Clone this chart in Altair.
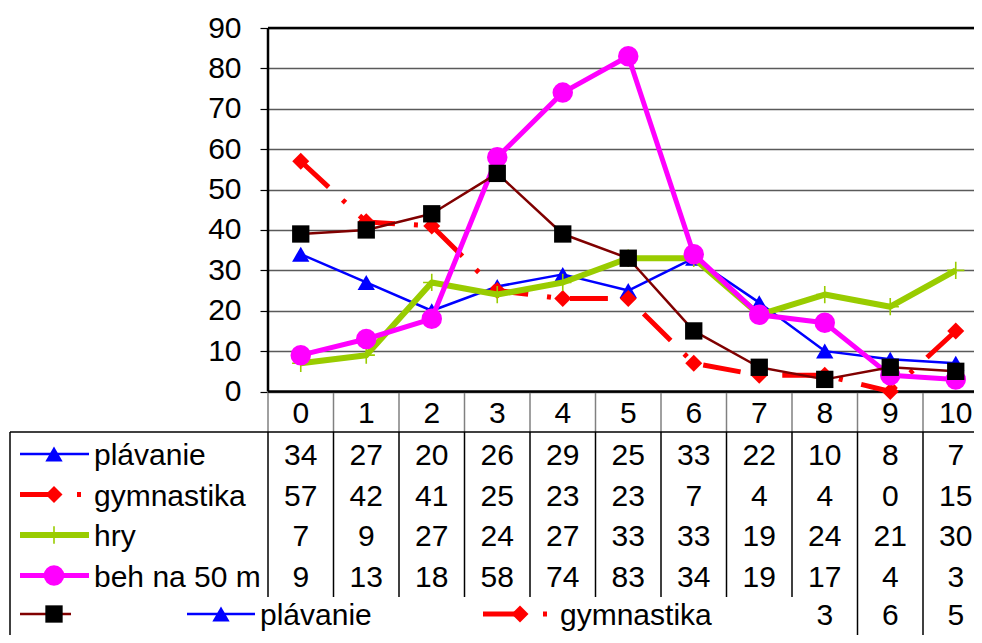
import altair as alt
import pandas as pd

# ---------------- data ----------------
categories = list(range(11))
plavanie   = [34, 27, 20, 26, 29, 25, 33, 22, 10, 8, 7]
gymnastika = [57, 42, 41, 25, 23, 23, 7, 4, 4, 0, 15]
hry        = [7, 9, 27, 24, 27, 33, 33, 19, 24, 21, 30]
beh        = [9, 13, 18, 58, 74, 83, 34, 19, 17, 4, 3]
bez_nazvu  = [39, 40, 44, 54, 39, 33, 15, 6, 3, 6, 5]
series_names = ["plávanie", "gymnastika", "hry", "beh na 50 m", ""]
y_ticks = [0, 10, 20, 30, 40, 50, 60, 70, 80, 90]
last_row_visible = [8, 9, 10]   # categories whose 5th-row value is not hidden by the legend

# ---------------- layout ----------------
FONT = "Liberation Sans"
FS = 30
PAD_L, PAD_T = 260, 20
W, H = 706, 607
PX_CAT = 65.5
PX_UNIT = 4.039
X0_PAGE = 8 + PAD_L
Y0_PAGE = 8 + PAD_T + 90 * PX_UNIT
X_MIN = -0.5
X_MAX = X_MIN + W / PX_CAT
Y_MAX = 90
Y_MIN = Y_MAX - H / PX_UNIT


def xd(px):
    return X_MIN + (px - X0_PAGE) / PX_CAT


def yd(py):
    return (Y0_PAGE - py) / PX_UNIT


xs = alt.Scale(domain=[X_MIN, X_MAX], nice=False, zero=False)
ys = alt.Scale(domain=[Y_MIN, Y_MAX], nice=False, zero=False)
yaxis = alt.Axis(values=y_ticks, title=None, grid=True, gridColor="#5a5a5a", gridWidth=1.5,
                 domain=False, ticks=True, tickColor="#000000", tickWidth=1.2, tickSize=8,
                 labelFont=FONT, labelFontSize=FS, labelColor="#000000", labelPadding=19,
                 labelBaseline="middle")


def X(f="x"):
    return alt.X(f + ":Q", scale=xs, axis=None)


def Y(f="y"):
    return alt.Y(f + ":Q", scale=ys, axis=yaxis)


styles = [
    dict(color="#0000FF", width=2.5, shape="triangle-up", size=300, fill=True, pcolor="#0000FF"),
    dict(color="#FF0000", width=5, shape="diamond", size=289, fill=True, pcolor="#FF0000",
         dash=[38, 19, 4, 19]),
    dict(color="#99CC00", width=6, shape="M-1,0L1,0M0,-1L0,1", size=300, fill=False, pcolor="#99CC00"),
    dict(color="#FF00FF", width=5, shape="circle", size=420, fill=True, pcolor="#FF00FF"),
    dict(color="#800000", width=2.5, shape="square", size=300, fill=True, pcolor="#000000"),
]
series_values = [plavanie, gymnastika, hry, beh, bez_nazvu]


def rules(rows, color, width):
    df = pd.DataFrame(rows, columns=["x", "x2", "y", "y2"])
    return alt.Chart(df).mark_rule(color=color, strokeWidth=width, strokeCap="butt").encode(
        x=X(), x2="x2:Q", y=Y(), y2="y2:Q")


def points(xv, yv, st):
    df = pd.DataFrame({"x": xv, "y": yv})
    kw = dict(shape=st["shape"], size=st["size"], opacity=1, color=st["pcolor"], filled=st["fill"])
    if not st["fill"]:
        kw["strokeWidth"] = 1.6
    else:
        kw["strokeWidth"] = 0
    return alt.Chart(df).mark_point(**kw).encode(x=X(), y=Y())


def texts(xv, yv, tv, align="center"):
    df = pd.DataFrame({"x": xv, "y": yv, "t": tv})
    return alt.Chart(df).mark_text(font=FONT, fontSize=FS, color="#000000", align=align,
                                   baseline="middle", dy=2).encode(x=X(), y=Y(), text="t:N")


layers = []

# table / category grid lines
y_head_line = yd(432)
y_cut = yd(597)
bounds = [c - 0.5 for c in categories]
layers.append(rules([(b, b, 0, y_head_line) for b in bounds], "#808080", 1.5))
layers.append(rules([(b, b, y_head_line, y_cut) for b in bounds if b < 8]
                    + [(b, b, y_head_line, Y_MIN) for b in bounds if b > 8], "#000000", 1.5))
layers.append(rules([(xd(10), X_MAX, y_head_line, y_head_line),
                     (xd(10), xd(10), y_head_line, Y_MIN)], "#000000", 1.5))
# plot frame lines
layers.append(rules([(X_MIN, X_MAX, 0, 0), (X_MIN, X_MAX, 90, 90), (X_MIN, X_MIN, 0, 90)],
                    "#000000", 2.5))

# series
for vals, st in zip(series_values, styles):
    df = pd.DataFrame({"x": categories, "y": vals})
    lkw = dict(color=st["color"], strokeWidth=st["width"], strokeJoin="round", strokeCap="butt")
    if "dash" in st:
        lkw["strokeDash"] = st["dash"]
    layers.append(alt.Chart(df).mark_line(**lkw).encode(x=X(), y=Y()))
    layers.append(points(categories, vals, st))

# header (category labels)
layers.append(texts(categories, [yd(412)] * len(categories), [str(c) for c in categories]))

# table rows
row_y = [yd(454), yd(494.5), yd(535), yd(575.5)]
for i in range(4):
    st = styles[i]
    ry = row_y[i]
    if i == 1:
        layers.append(rules([(xd(20), xd(54), ry, ry)], st["color"], st["width"]))
        layers.append(rules([(xd(77), xd(81), ry, ry)], st["color"], st["width"]))
    else:
        layers.append(rules([(xd(20), xd(89), ry, ry)], st["color"], st["width"]))
    layers.append(points([xd(54)], [ry], st))
    layers.append(texts([xd(94)], [ry], [series_names[i]], align="left"))
    layers.append(texts(categories, [ry] * len(categories), [str(v) for v in series_values[i]]))

# last row (overflowing legend + visible values of the unnamed series)
ly = yd(614)
layers.append(rules([(xd(20), xd(71), ly, ly)], styles[4]["color"], styles[4]["width"]))
layers.append(points([xd(54)], [ly], styles[4]))
layers.append(rules([(xd(187), xd(255), ly, ly)], styles[0]["color"], styles[0]["width"]))
layers.append(points([xd(221)], [ly], styles[0]))
layers.append(texts([xd(260)], [ly], [series_names[0]], align="left"))
layers.append(rules([(xd(483), xd(520), ly, ly), (xd(543), xd(547), ly, ly)],
                    styles[1]["color"], styles[1]["width"]))
layers.append(points([xd(520)], [ly], styles[1]))
layers.append(texts([xd(560)], [ly], [series_names[1]], align="left"))
layers.append(texts(last_row_visible, [ly] * len(last_row_visible),
                    [str(bez_nazvu[c]) for c in last_row_visible]))

chart = alt.layer(*layers).properties(
    width=W, height=H,
    padding={"left": PAD_L, "top": PAD_T, "right": 0, "bottom": 0},
    autosize=alt.AutoSizeParams(type="none"),
    background="white",
).configure_view(stroke=None)

chart.save("out.html", embed_options={"renderer": "svg", "actions": False})
